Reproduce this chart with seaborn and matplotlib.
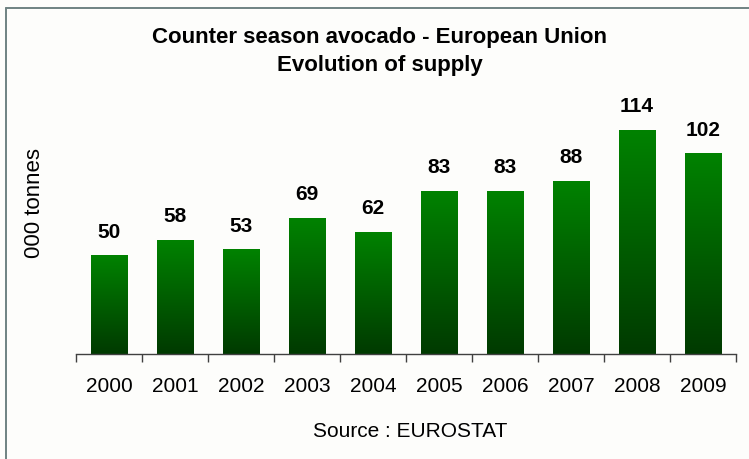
import numpy as np
import pandas as pd
import matplotlib
matplotlib.use("Agg")
import matplotlib.pyplot as plt
from matplotlib.colors import LinearSegmentedColormap
from matplotlib.lines import Line2D
import seaborn as sns

years = ["2000", "2001", "2002", "2003", "2004", "2005", "2006", "2007", "2008", "2009"]
supply = [50, 58, 53, 69, 62, 83, 83, 88, 114, 102]
title_lines = ["Counter season avocado - European Union", "Evolution of supply"]
y_label = "000 tonnes"
source_text = "Source : EUROSTAT"

sns.set_theme(style="white")
plt.rcParams['font.family'] = ['Liberation Sans', 'DejaVu Sans']
plt.rcParams['text.color'] = 'black'
plt.rcParams['xtick.color'] = 'black'

df = pd.DataFrame({"year": years, "supply": supply})

fig = plt.figure(figsize=(7.49, 4.60), dpi=100, facecolor="#fdfdfb")
ax = fig.add_axes([76/749, 1 - 355/460, (736-76)/749, (355-90)/460])
ax.set_facecolor("none")

sns.barplot(data=df, x="year", y="supply", ax=ax, width=0.56, color="green",
            edgecolor="none", saturation=1)

cmap = LinearSegmentedColormap.from_list("g", ["#003a00", "#008200"])
grad = np.linspace(0, 1, 256).reshape(-1, 1)
for p in list(ax.patches):
    x, y0 = p.get_x(), p.get_y()
    w, h = p.get_width(), p.get_height()
    ax.imshow(grad, cmap=cmap, origin="lower", aspect="auto",
              extent=[x, x + w, y0, y0 + h], zorder=2)
    p.set_facecolor("none")

ax.set_xlim(-0.5, len(years) - 0.5)
ax.set_ylim(0, 135)

for i, v in enumerate(supply):
    ax.annotate(str(v), (i, v), xytext=(0, 11), textcoords="offset points",
                ha="center", va="bottom", fontsize=15, fontweight="bold", color="black")

ax.set_yticks([])
ax.set_xlabel("")
ax.set_ylabel("")
for s in ["top", "right", "left"]:
    ax.spines[s].set_visible(False)
ax.spines["bottom"].set_color("#404040")
ax.spines["bottom"].set_linewidth(1.0)
ax.spines["bottom"].set_zorder(3)

ax.set_xticks(range(len(years)))
ax.set_xticklabels(years, fontsize=15, color="black")
ax.set_xticks(np.arange(-0.5, len(years), 1.0), minor=True)
ax.tick_params(axis="x", which="major", length=0, pad=16)
ax.tick_params(axis="x", which="minor", length=6, width=1.0, color="#404040",
               direction="out", bottom=True)

fig.text(380/749, 1 - 38/460, title_lines[0], ha="center", va="center",
         fontsize=16, fontweight="bold", color="black")
fig.text(380/749, 1 - 65/460, title_lines[1], ha="center", va="center",
         fontsize=16, fontweight="bold", color="black")
fig.text(35/749, 1 - 203/460, y_label, ha="center", va="center", rotation=90,
         fontsize=16, color="black")
fig.text(410/749, 1 - 432/460, source_text, ha="center", va="center",
         fontsize=15, color="black")

bx, by = 5.5/749, 1 - 8.5/460
fig.lines.append(Line2D([bx, bx], [0, by], transform=fig.transFigure,
                        color="#6f8282", linewidth=1.4))
fig.lines.append(Line2D([bx, 1], [by, by], transform=fig.transFigure,
                        color="#6f8282", linewidth=1.4))

fig.savefig("out.png", dpi=100, facecolor=fig.get_facecolor())
